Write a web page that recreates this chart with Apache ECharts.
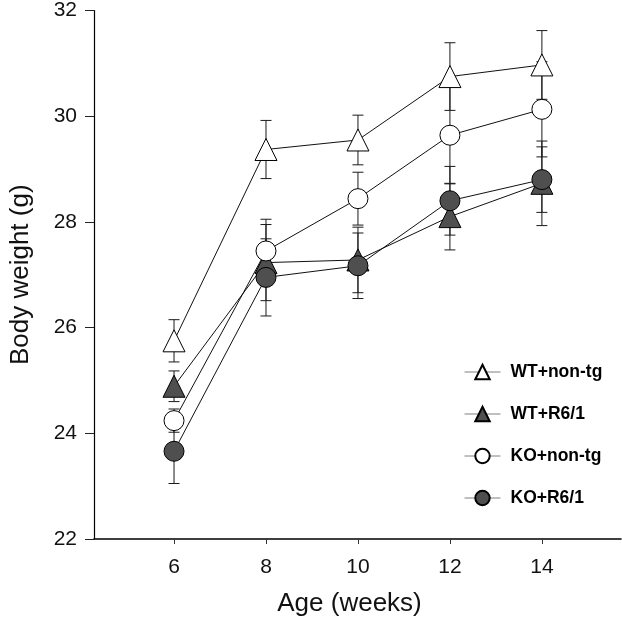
<!DOCTYPE html>
<html><head><meta charset="utf-8">
<script src="https://cdn.jsdelivr.net/npm/echarts@6/dist/echarts.min.js"></script>
<style>html,body{margin:0;padding:0;background:#fff}#c{width:622px;height:622px}</style>
</head><body><div id="c"></div>
<script>
// ---- data ----
const ages = [6, 8, 10, 12, 14];
const xTickValues = [6, 8, 10, 12, 14];
const seriesNames = ['WT+non-tg', 'WT+R6/1', 'KO+non-tg', 'KO+R6/1'];
const wtNonTg    = [25.75, 29.37, 29.55, 30.75, 30.97];
const wtNonTgSem = [0.40, 0.55, 0.47, 0.64, 0.65];
const wtR61      = [24.89, 27.23, 27.28, 28.10, 28.73];
const wtR61Sem   = [0.29, 0.72, 0.62, 0.63, 0.80];
const koNonTg    = [24.24, 27.45, 28.44, 29.64, 30.13];
const koNonTgSem = [0.22, 0.60, 0.50, 0.92, 0.90];
const koR61      = [23.66, 26.95, 27.17, 28.40, 28.80];
const koR61Sem   = [0.61, 0.73, 0.62, 0.65, 0.62];
const sigAges = [10, 12, 14];
const sigY    = [26.16, 27.19, 27.37];
const sigMark = '§';

const FONT = 'Liberation Sans, Arial, Helvetica, sans-serif';
const DARK = '#4f4f4f';

const groups = [
  {name: seriesNames[0], v: wtNonTg, e: wtNonTgSem, symbol: 'triangle', size: 22, fill: '#ffffff'},
  {name: seriesNames[1], v: wtR61,   e: wtR61Sem,   symbol: 'triangle', size: 22, fill: DARK},
  {name: seriesNames[2], v: koNonTg, e: koNonTgSem, symbol: 'circle',   size: 20, fill: '#ffffff'},
  {name: seriesNames[3], v: koR61,   e: koR61Sem,   symbol: 'circle',   size: 20, fill: DARK}
];

function errRender(params, api) {
  const x = api.value(0);
  const lo = api.coord([x, api.value(1)]);
  const hi = api.coord([x, api.value(2)]);
  const w = 5.5;
  const st = {stroke: '#1a1a1a', lineWidth: 1};
  return {type: 'group', children: [
    {type: 'line', shape: {x1: lo[0], y1: lo[1], x2: hi[0], y2: hi[1]}, style: st},
    {type: 'line', shape: {x1: lo[0]-w, y1: lo[1], x2: lo[0]+w, y2: lo[1]}, style: st},
    {type: 'line', shape: {x1: hi[0]-w, y1: hi[1], x2: hi[0]+w, y2: hi[1]}, style: st}
  ]};
}

const series = [];
groups.forEach(g => {
  series.push({
    type: 'custom', name: g.name + ' err', coordinateSystem: 'cartesian2d',
    renderItem: errRender, z: 1, silent: true,
    encode: {x: 0, y: [1, 2]},
    data: ages.map((a, i) => [a, g.v[i] - g.e[i], g.v[i] + g.e[i]])
  });
});
groups.forEach(g => {
  series.push({
    type: 'line', name: g.name, z: 3,
    symbol: g.symbol, symbolSize: g.size,
    itemStyle: {color: g.fill, borderColor: '#000', borderWidth: 1, opacity: 1},
    lineStyle: {color: '#111', width: 1},
    data: ages.map((a, i) => [a, g.v[i]])
  });
});
series.push({
  type: 'scatter', name: 'sig', z: 4, symbolSize: 1, itemStyle: {opacity: 0},
  label: {show: true, position: 'inside', formatter: sigMark, color: '#111', fontSize: 22, fontFamily: FONT},
  data: sigAges.map((a, i) => [a, sigY[i]])
});

const chart = echarts.init(document.getElementById('c'), null, {renderer: 'canvas'});
chart.setOption({
  animation: false,
  backgroundColor: '#fff',
  grid: {left: 85, right: 1, top: 7, bottom: 79, containLabel: false},
  legend: {
    data: seriesNames, orient: 'vertical', left: 459, top: 358,
    itemWidth: 36, itemHeight: 18, itemGap: 24,
    lineStyle: {color: '#808080', width: 1},
    textStyle: {fontFamily: FONT, fontWeight: 'bold', fontSize: 17.5, color: '#000', padding: [0, 0, 0, 5]}
  },
  xAxis: {
    type: 'value', min: 4.26, max: 15.72,
    name: 'Age (weeks)', nameLocation: 'middle', nameGap: 52,
    nameTextStyle: {fontFamily: FONT, fontSize: 26, color: '#111', padding: [0, 16, 0, 0]},
    axisLine: {onZero: false, lineStyle: {color: '#000', width: 1.6}},
    axisTick: {show: true, length: 5, customValues: xTickValues, lineStyle: {color: '#333'}},
    axisLabel: {customValues: xTickValues, margin: 18, fontFamily: FONT, fontSize: 21, color: '#111'},
    splitLine: {show: false}
  },
  yAxis: {
    type: 'value', min: 22, max: 32, interval: 2,
    name: 'Body weight (g)', nameLocation: 'middle', nameGap: 60,
    nameTextStyle: {fontFamily: FONT, fontSize: 26, color: '#111'},
    axisLine: {show: true, onZero: false, lineStyle: {color: '#000', width: 1.2}},
    axisTick: {show: true, length: 9, lineStyle: {color: '#222'}},
    axisLabel: {margin: 17, fontFamily: FONT, fontSize: 21, color: '#111'},
    splitLine: {show: false}
  },
  series: series
});
</script></body></html>
